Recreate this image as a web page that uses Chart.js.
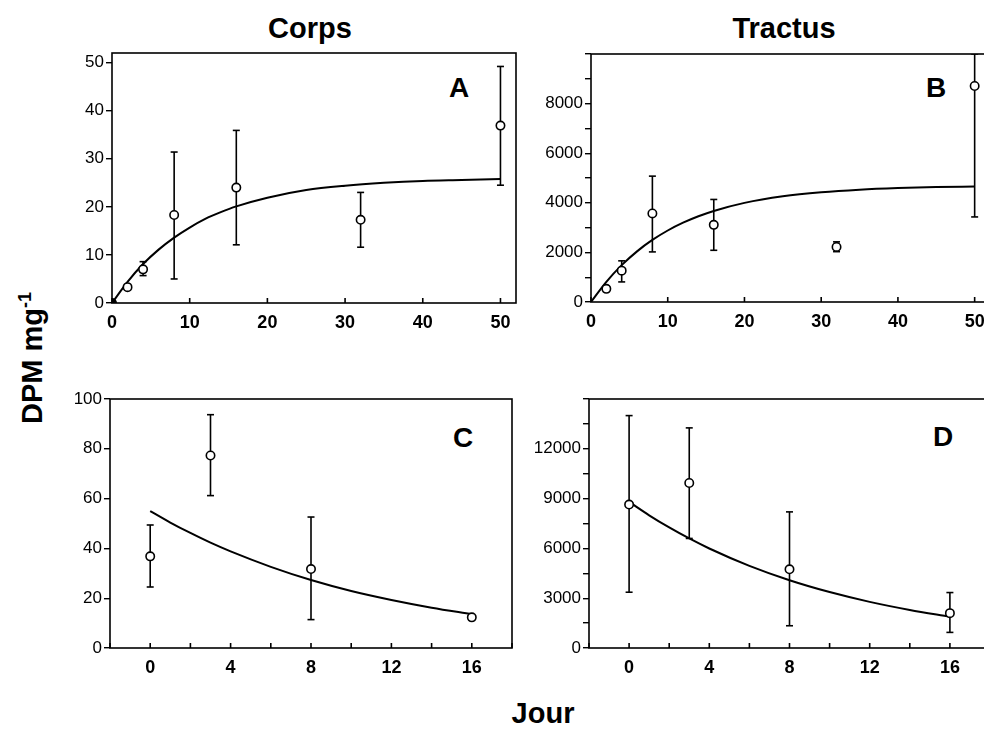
<!DOCTYPE html>
<html>
<head>
<meta charset="utf-8">
<script src="https://cdn.jsdelivr.net/npm/chart.js@4.4.1/dist/chart.umd.min.js"></script>
<style>
  html, body { margin: 0; padding: 0; background: #fff; overflow: hidden; }
  body { width: 984px; height: 732px; position: relative; font-family: "Liberation Sans", Arial, sans-serif; }
  canvas { position: absolute; }
  .lbl { position: absolute; transform: translate(-50%, -50%); font-weight: bold; color: #000; white-space: nowrap; line-height: 1; }
  .title { font-size: 29px; }
  .letter { font-size: 28px; }
  #ylab { transform: translate(-50%, -50%) rotate(-90deg); font-size: 29px; }
  #ylab sup { font-size: 18px; vertical-align: 11px; }
</style>
</head>
<body>
<div class="lbl title" style="left:310px; top:28px;">Corps</div>
<div class="lbl title" style="left:784px; top:28px;">Tractus</div>
<div class="lbl letter" style="left:459px; top:88px;">A</div>
<div class="lbl letter" style="left:936px; top:88px;">B</div>
<div class="lbl letter" style="left:463px; top:438px;">C</div>
<div class="lbl letter" style="left:943px; top:437px;">D</div>
<div class="lbl title" style="left:543px; top:713px;">Jour</div>
<div class="lbl" id="ylab" style="left:31px; top:358px;">DPM mg<sup>-1</sup></div>

<canvas id="chartA" width="504" height="314" style="left:32px; top:39px;"></canvas>
<canvas id="chartB" width="499" height="312" style="left:511px; top:40px;"></canvas>
<canvas id="chartC" width="502" height="313" style="left:30px; top:385px;"></canvas>
<canvas id="chartD" width="501" height="313" style="left:509px; top:385px;"></canvas>

<script>
// Corps, 0-50 jours (A)
const dayA = [0, 2, 4, 8, 16, 32, 50];
const meanA = [0, 3.3, 7.0, 18.3, 24.0, 17.3, 36.9];
const lowA = [null, null, 5.7, 5.0, 12.1, 11.6, 24.5];
const highA = [null, null, 8.6, 31.4, 35.9, 23.0, 49.2];
const fitDayA = [0, 2, 4, 6, 8, 10, 12, 14, 16, 20, 25, 30, 35, 40, 45, 50];
const fitA = [0, 4.4, 8.1, 11.1, 13.6, 15.7, 17.5, 18.9, 20.1, 21.9, 23.5, 24.4, 25.0, 25.4, 25.6, 25.8];

// Tractus, 0-50 jours (B)
const dayB = [2, 4, 8, 16, 32, 50];
const meanB = [530, 1265, 3570, 3110, 2220, 8710];
const lowB = [null, 810, 2020, 2085, 2030, 3430];
const highB = [null, 1660, 5075, 4135, 2425, 10000];
const fitDayB = [0, 2, 4, 6, 8, 10, 12, 14, 16, 20, 25, 30, 35, 40, 45, 50];
const fitB = [0, 813, 1486, 2042, 2502, 2883, 3197, 3457, 3672, 3997, 4263, 4427, 4531, 4595, 4635, 4659];

// Corps, 0-16 jours (C)
const dayC = [0, 3, 8, 16];
const meanC = [36.8, 77.3, 31.7, 12.3];
const lowC = [24.5, 61.2, 11.4, null];
const highC = [49.4, 93.7, 52.6, null];
const fitDayC = [0, 1, 2, 3, 4, 6, 8, 10, 12, 14, 16];
const fitC = [55, 50.4, 46.2, 42.3, 38.8, 32.6, 27.3, 22.9, 19.3, 16.2, 13.6];

// Tractus, 0-16 jours (D)
const dayD = [0, 3, 8, 16];
const meanD = [8640, 9940, 4740, 2100];
const lowD = [3360, 6600, 1340, 940];
const highD = [14000, 13260, 8200, 3340];
const fitDayD = [0, 1, 2, 3, 4, 6, 8, 10, 12, 14, 16];
const fitD = [8800, 7995, 7263, 6598, 5994, 4947, 4082, 3369, 2780, 2294, 1893];

const FONT = '"Liberation Sans", Arial, sans-serif';

// cadre + graduations vers l'intérieur sur l'axe x
const framePlugin = {
    id: 'frame',
    beforeDatasetsDraw(chart) {
        const { ctx, chartArea: a } = chart;
        const x = chart.scales.x;
        ctx.save();
        ctx.strokeStyle = '#000';
        ctx.lineWidth = 1.6;
        ctx.strokeRect(a.left, a.top, a.right - a.left, a.bottom - a.top);
        ctx.beginPath();
        x.ticks.forEach(t => {
            const px = x.getPixelForValue(t.value);
            ctx.moveTo(px, a.bottom);
            ctx.lineTo(px, a.bottom - 5);
        });
        ctx.stroke();
        ctx.restore();
    }
};

function toPoints(xs, ys) {
    return xs.map((d, i) => ({ x: d, y: ys[i] }));
}

function errorPoints(xs, lows, highs) {
    const pts = [];
    xs.forEach((d, i) => {
        if (lows[i] === null) return;
        pts.push({ x: d, y: lows[i] }, { x: d, y: highs[i] }, { x: d, y: null });
    });
    return pts;
}

function makePanel(id, p) {
    const ctx = document.getElementById(id);
    return new Chart(ctx, {
        type: 'scatter',
        data: {
            datasets: [
                {
                    data: toPoints(p.days, p.mean),
                    pointRadius: 4.2,
                    pointBorderWidth: 1.6,
                    pointBorderColor: '#000',
                    pointBackgroundColor: p.fillFirst ? (c => c.dataIndex === 0 ? '#000' : '#fff') : '#fff',
                    showLine: false,
                    order: 1
                },
                {
                    data: errorPoints(p.days, p.low, p.high),
                    showLine: true,
                    spanGaps: false,
                    borderColor: '#000',
                    borderWidth: 1.6,
                    pointStyle: 'line',
                    pointRadius: 3.5,
                    pointBorderWidth: 1.6,
                    pointBorderColor: '#000',
                    order: 2
                },
                {
                    data: toPoints(p.fitDays, p.fit),
                    showLine: true,
                    borderColor: '#000',
                    borderWidth: 2,
                    cubicInterpolationMode: 'monotone',
                    pointRadius: 0,
                    order: 3
                }
            ]
        },
        options: {
            responsive: false,
            animation: false,
            devicePixelRatio: 1,
            layout: { padding: { top: 14, right: 20, left: 0, bottom: 0 } },
            plugins: { legend: { display: false }, tooltip: { enabled: false } },
            scales: {
                x: {
                    type: 'linear',
                    min: p.xMin, max: p.xMax,
                    grid: { display: false, drawTicks: false },
                    border: { display: false },
                    afterFit: s => { s.height = 50; },
                    ticks: {
                        stepSize: p.xStep,
                        includeBounds: false,
                        autoSkip: false,
                        maxRotation: 0,
                        padding: 9,
                        color: '#000',
                        font: { family: FONT, size: 18, weight: 'bold' },
                        callback: p.xLabel
                    }
                },
                y: {
                    min: 0, max: p.yMax,
                    grid: { display: true, drawOnChartArea: false, drawTicks: true, tickLength: 6, color: '#000', lineWidth: 1.4 },
                    border: { display: false },
                    afterFit: s => { s.width = 80; },
                    ticks: {
                        stepSize: p.yStep,
                        includeBounds: false,
                        autoSkip: false,
                        padding: 2,
                        color: '#000',
                        font: { family: FONT, size: 17 },
                        callback: p.yLabel
                    }
                }
            }
        },
        plugins: [framePlugin]
    });
}

const plain = v => String(v);

makePanel('chartA', {
    days: dayA, mean: meanA, low: lowA, high: highA, fitDays: fitDayA, fit: fitA, fillFirst: true,
    xMin: 0, xMax: 52, xStep: 10, xLabel: plain,
    yMax: 52, yStep: 10, yLabel: plain
});

makePanel('chartB', {
    days: dayB, mean: meanB, low: lowB, high: highB, fitDays: fitDayB, fit: fitB,
    xMin: 0, xMax: 52, xStep: 10, xLabel: plain,
    yMax: 10000, yStep: 1000, yLabel: v => (v % 2000 === 0 && v < 10000) ? String(v) : ''
});

const dayLabel = v => (v % 4 === 0 && v >= 0 && v <= 16) ? String(v) : '';

makePanel('chartC', {
    days: dayC, mean: meanC, low: lowC, high: highC, fitDays: fitDayC, fit: fitC,
    xMin: -2, xMax: 18, xStep: 2, xLabel: dayLabel,
    yMax: 100, yStep: 20, yLabel: plain
});

makePanel('chartD', {
    days: dayD, mean: meanD, low: lowD, high: highD, fitDays: fitDayD, fit: fitD,
    xMin: -2, xMax: 18, xStep: 2, xLabel: dayLabel,
    yMax: 15000, yStep: 1500, yLabel: v => (v % 3000 === 0 && v < 15000) ? String(v) : ''
});
</script>
</body>
</html>
